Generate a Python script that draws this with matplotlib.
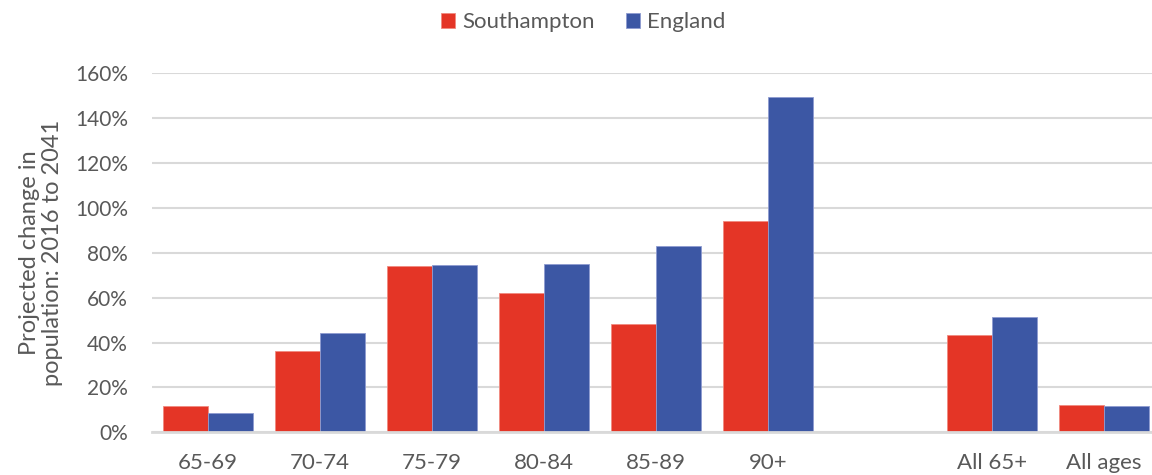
import numpy as np
import matplotlib.pyplot as plt
from matplotlib.ticker import PercentFormatter

# Projected population change 2016-2041 by age band
categories = ["65-69", "70-74", "75-79", "80-84", "85-89", "90+", "", "All 65+", "All ages"]
southampton = [11.6, 36.4, 74.0, 61.9, 48.3, 94.3, np.nan, 43.2, 12.0]
england = [8.7, 44.1, 74.4, 74.9, 83.0, 149.6, np.nan, 51.4, 11.7]

red = "#E43526"
blue = "#3C57A4"
grey_text = "#595959"
grid_col = "#D9D9D9"

plt.rcParams['font.family'] = ['Lato', 'DejaVu Sans']

fig = plt.figure(figsize=(11.52, 4.75), dpi=100)
ax = fig.add_axes([0.1317, 0.0899, 0.8683, 0.7558])

x = np.arange(len(categories))
w = 0.4
ax.bar(x - w / 2, southampton, width=w, color=red, edgecolor="#F08A80",
       linewidth=0.6, label="Southampton", zorder=3)
ax.bar(x + w / 2, england, width=w, color=blue, edgecolor="#8E9BD0",
       linewidth=0.6, label="England", zorder=3)

ax.set_xlim(-0.5, 8.43)
ax.set_ylim(0, 160)
ax.set_yticks(np.arange(0, 161, 20))
ax.yaxis.set_major_formatter(PercentFormatter(decimals=0))
ax.set_xticks(x)
ax.set_xticklabels(categories)

ax.grid(axis="y", color=grid_col, linewidth=1.5, zorder=0)
for side in ["top", "right", "left"]:
    ax.spines[side].set_visible(False)
ax.spines["bottom"].set_color(grid_col)
ax.spines["bottom"].set_linewidth(2)
ax.spines["bottom"].set_zorder(4)

ax.tick_params(axis="y", length=0, pad=17, labelsize=15, labelcolor=grey_text)
ax.tick_params(axis="x", length=0, pad=15, labelsize=16, labelcolor=grey_text)

ax.set_ylabel("Projected change in\npopulation: 2016 to 2041", fontsize=17,
              color=grey_text, labelpad=9, linespacing=1.1)

fig.legend(loc="center", bbox_to_anchor=(0.506, 0.953), ncol=2, frameon=False,
           fontsize=16, labelcolor=grey_text, handlelength=0.65, handleheight=0.65,
           handletextpad=0.3, columnspacing=1.4)

fig.savefig("out.png", dpi=100)
